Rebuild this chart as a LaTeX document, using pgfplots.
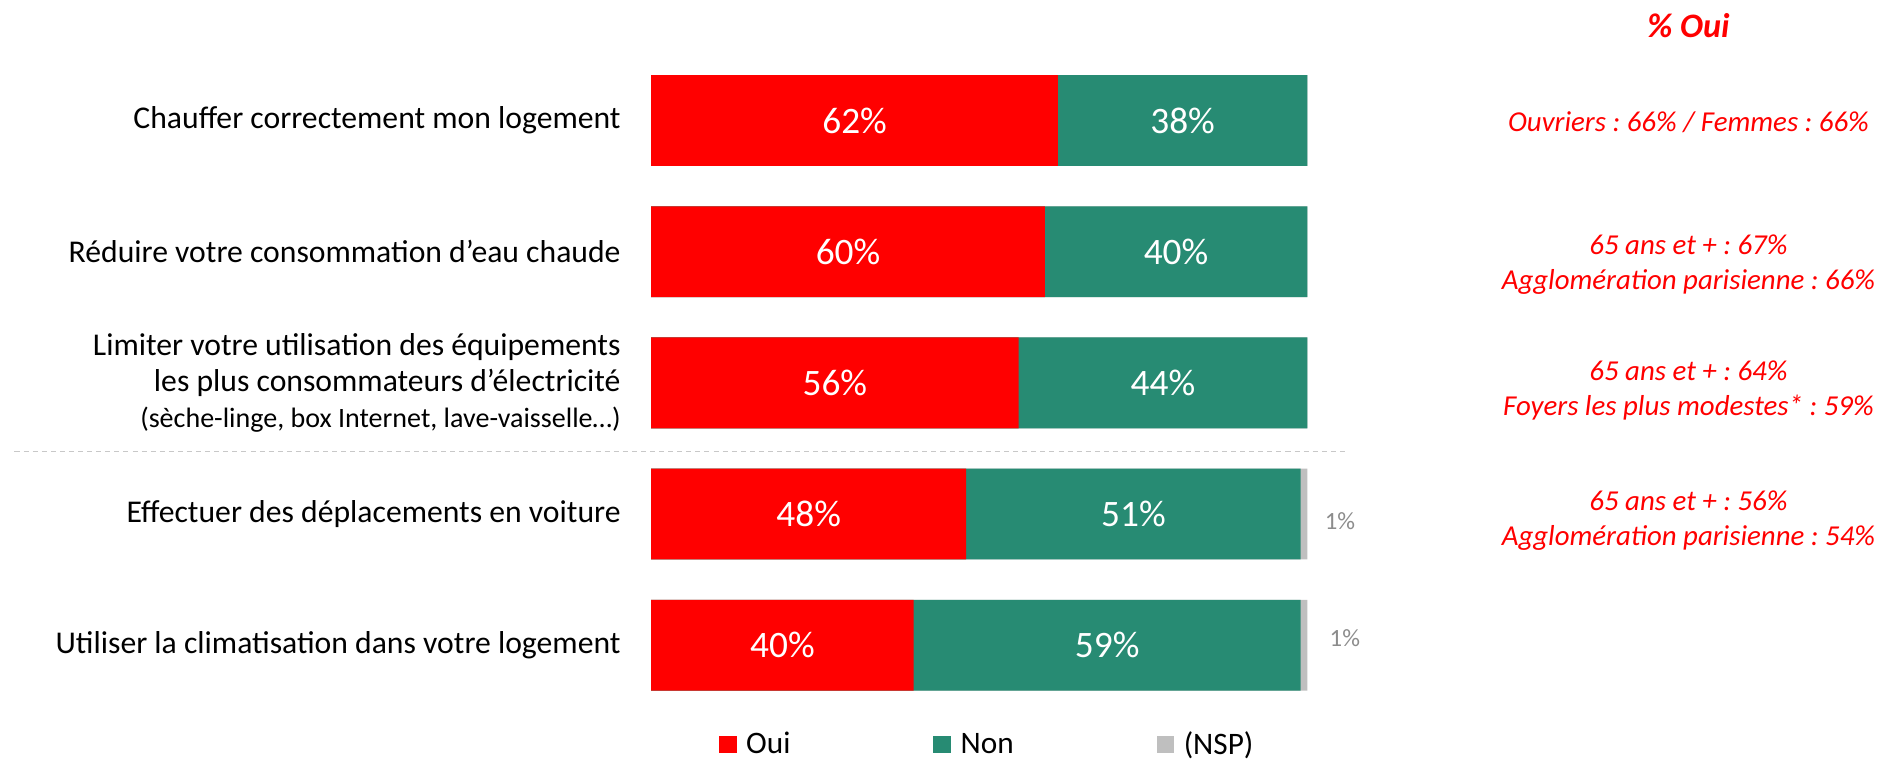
\documentclass[border=0pt]{standalone}
\usepackage{pgfplots}
\pgfplotsset{compat=1.18}
\usepackage{pgfplotstable}
\usepackage{fontspec}
\setmainfont{Carlito}
\definecolor{ored}{RGB}{255,0,0}
\definecolor{ngreen}{RGB}{39,139,115}
\definecolor{nspgray}{RGB}{191,191,191}
\definecolor{lblgray}{RGB}{140,140,140}
\definecolor{dashgray}{RGB}{200,200,200}

\pgfplotstableread{
y oui non nsp
1 62 38 0
2 60 40 0
3 56 44 0
4 48 51 1
5 40 59 1
}\data

\begin{document}
\frenchspacing
\begin{tikzpicture}
\begin{axis}[
  scale only axis, width=325.2bp, height=325.2bp,
  xmin=0, xmax=100, ymin=0.5, ymax=5.5, y dir=reverse,
  enlargelimits=false, clip=false,
  axis line style={draw=none}, major tick length=0pt,
  xtick=\empty, ytick={1,2,3,4,5},
  /pgf/number format/assume math mode=true,
  yticklabels={
    Chauffer correctement mon logement,
    Réduire votre consommation d’eau chaude,
    {Limiter votre utilisation des équipements\\les plus consommateurs d’électricité\\{\fontsize{13.9bp}{17.7bp}\selectfont (sèche-linge, box Internet, lave-vaisselle…)}},
    Effectuer des déplacements en voiture,
    Utiliser la climatisation dans votre logement},
  yticklabel style={font=\fontsize{15.7bp}{17.7bp}\selectfont, align=right, anchor=east, inner sep=0pt, xshift=-15bp},
  reverse legend, legend columns=3,
  legend style={at={(0.1033,-0.0513)}, anchor=west, draw=none, fill=none,
    inner sep=0pt, outer sep=0pt, font=\fontsize{15.5bp}{18bp}\selectfont,
    nodes={inner sep=0pt},
    /tikz/every even column/.append style={column sep=70.8bp}},
  legend image code/.code={\fill[#1] (0bp,-4.35bp) rectangle (8.7bp,4.35bp); \path (13.5bp,0bp);},
]
\addplot[xbar, bar width=45bp, bar shift=0pt, fill=nspgray, draw=none]
  table[x expr=\thisrow{oui}+\thisrow{non}+\thisrow{nsp}, y=y]{\data};
\addlegendentry{(NSP)}
\addplot[xbar, bar width=45bp, bar shift=0pt, fill=ngreen, draw=none]
  table[x expr=\thisrow{oui}+\thisrow{non}, y=y]{\data};
\addlegendentry{Non}
\addplot[xbar, bar width=45bp, bar shift=0pt, fill=ored, draw=none]
  table[x=oui, y=y]{\data};
\addlegendentry{Oui}

% value labels
\addplot[draw=none, mark=none, forget plot, point meta=\thisrow{oui},
  nodes near coords={\pgfmathprintnumber[fixed,precision=0]{\pgfplotspointmeta}\%},
  nodes near coords style={anchor=center, text=white, font=\fontsize{18.5bp}{21bp}\selectfont}]
  table[x expr=\thisrow{oui}/2, y=y]{\data};
\addplot[draw=none, mark=none, forget plot, point meta=\thisrow{non},
  nodes near coords={\pgfmathprintnumber[fixed,precision=0]{\pgfplotspointmeta}\%},
  nodes near coords style={anchor=center, text=white, font=\fontsize{18.5bp}{21bp}\selectfont}]
  table[x expr=\thisrow{oui}+\thisrow{non}/2, y=y]{\data};
\addplot[draw=none, mark=none, forget plot, point meta=\thisrow{nsp},
  skip coords between index={0}{3}, skip coords between index={4}{5},
  nodes near coords={\pgfmathprintnumber[fixed,precision=0]{\pgfplotspointmeta}\%},
  nodes near coords style={anchor=west, inner sep=0pt, xshift=8.5bp, yshift=-3.4bp, text=lblgray, font=\fontsize{12.3bp}{15bp}\selectfont}]
  table[x expr=\thisrow{oui}+\thisrow{non}+\thisrow{nsp}, y=y]{\data};
\addplot[draw=none, mark=none, forget plot, point meta=\thisrow{nsp},
  skip coords between index={0}{4},
  nodes near coords={\pgfmathprintnumber[fixed,precision=0]{\pgfplotspointmeta}\%},
  nodes near coords style={anchor=west, inner sep=0pt, xshift=10.9bp, yshift=3.6bp, text=lblgray, font=\fontsize{12.3bp}{15bp}\selectfont}]
  table[x expr=\thisrow{oui}+\thisrow{non}+\thisrow{nsp}, y=y]{\data};

% separator
\draw[dashgray, line width=0.8bp, dash pattern=on 2.5bp off 2bp] (axis cs:-97.05,3.523) -- (axis cs:105.9,3.523);

% right-hand annotations
\node[text=ored, font=\fontsize{17bp}{20bp}\selectfont\bfseries\itshape] at (axis cs:158.1,0.276) {\% Oui};
\begin{scope}[every node/.style={text=ored, align=center, font=\fontsize{14.3bp}{17.4bp}\selectfont\itshape}]
\node at (axis cs:158.1,1.014) {Ouvriers : 66\% / Femmes : 66\%};
\node at (axis cs:158.1,2.098) {65 ans et + : 67\%\\Agglomération parisienne : 66\%};
\node at (axis cs:158.1,3.057) {65 ans et + : 64\%\\Foyers les plus modestes* : 59\%};
\node at (axis cs:158.1,4.049) {65 ans et + : 56\%\\Agglomération parisienne : 54\%};
\end{scope}

\coordinate (bbTL) at (axis cs:-99.26,0.0821);
\coordinate (bbBR) at (axis cs:190.04,5.894);
\end{axis}
\path (bbTL) rectangle (bbBR);
\end{tikzpicture}
\end{document}
